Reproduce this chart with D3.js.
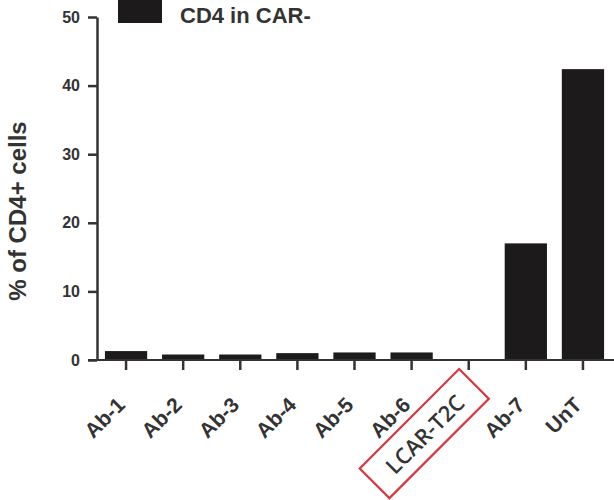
<!DOCTYPE html>
<html>
<head>
<meta charset="utf-8">
<script src="https://cdn.jsdelivr.net/npm/d3@7"></script>
<style>
  html, body { margin: 0; padding: 0; background: #fff; }
  svg { display: block; }
</style>
</head>
<body>
<svg id="chart" width="614" height="500"></svg>
<script>
const categories = ["Ab-1", "Ab-2", "Ab-3", "Ab-4", "Ab-5", "Ab-6", "LCAR-T2C", "Ab-7", "UnT"];
const values = [1.3, 0.8, 0.8, 1.0, 1.1, 1.1, 0, 17.0, 42.4];
const yTicks = [0, 10, 20, 30, 40, 50];
const seriesName = "CD4 in CAR-";
const yLabel = "% of CD4+ cells";
const highlighted = "LCAR-T2C";

const ink = "#333333";
const barColor = "#1c1a1b";
const font = "'Liberation Sans', Arial, Helvetica, sans-serif";

const svg = d3.select("#chart");

const x = d3.scaleBand()
  .domain(categories)
  .range([97.5, 611.5])
  .paddingInner(0.26)
  .paddingOuter(0.13);

const y = d3.scaleLinear().domain([0, 50]).range([360, 17]);

// bars
svg.append("g").selectAll("rect")
  .data(categories)
  .join("rect")
  .attr("x", d => x(d))
  .attr("width", x.bandwidth())
  .attr("y", (d, i) => y(values[i]))
  .attr("height", (d, i) => y(0) - y(values[i]))
  .attr("fill", barColor);

// y axis
const yAxis = svg.append("g")
  .attr("transform", `translate(97,0)`)
  .call(d3.axisLeft(y).tickValues(yTicks).tickSize(9).tickSizeOuter(0).tickPadding(8));
yAxis.select(".domain").attr("stroke", ink).attr("stroke-width", 2.5);
yAxis.selectAll(".tick line").attr("stroke", ink).attr("stroke-width", 2.5);
yAxis.selectAll(".tick text")
  .attr("fill", ink)
  .style("font-family", font)
  .style("font-weight", "bold")
  .style("font-size", "16px");

// x axis
const xAxis = svg.append("g")
  .attr("transform", `translate(0,${y(0)})`)
  .call(d3.axisBottom(x).tickSize(10).tickSizeOuter(0));
xAxis.select(".domain").remove();
xAxis.append("line")
  .attr("x1", 88).attr("x2", 614)
  .attr("y1", 0).attr("y2", 0)
  .attr("stroke", ink).attr("stroke-width", 2);
xAxis.selectAll(".tick line").attr("stroke", ink).attr("stroke-width", 2.5);
xAxis.selectAll(".tick text").remove();

// rotated x labels
const labelG = svg.append("g");
categories.forEach(c => {
  const isHi = c === highlighted;
  const cx0 = x(c) + x.bandwidth() / 2;
  const g = labelG.append("g")
    .attr("transform", `translate(${cx0 + (isHi ? -8 : -5)},${isHi ? 399 : 401}) rotate(-45)`);
  const t = g.append("text")
    .attr("text-anchor", "end")
    .attr("dy", "0.35em")
    .attr("fill", ink)
    .style("font-family", isHi ? "'Open Sans', sans-serif" : font)
    .style("font-weight", isHi ? "600" : "bold")
    .style("font-size", isHi ? "22px" : "21px")
    .text(c);
  if (isHi) {
    const bb = t.node().getBBox();
    const cx = bb.x + bb.width / 2;
    const cy = bb.y + bb.height / 2;
    const w = bb.width + 40, h = 42;
    g.append("rect")
      .attr("x", cx - w / 2)
      .attr("y", cy - h / 2)
      .attr("width", w)
      .attr("height", h)
      .attr("fill", "none")
      .attr("stroke", "#d8373f")
      .attr("stroke-width", 2.2);
  }
});

// legend
const leg = svg.append("g");
leg.append("rect")
  .attr("x", 118).attr("y", -2)
  .attr("width", 44).attr("height", 25)
  .attr("fill", barColor);
leg.append("text")
  .attr("x", 180).attr("y", 23)
  .attr("fill", ink)
  .style("font-family", font)
  .style("font-weight", "bold")
  .style("font-size", "22px")
  .text(seriesName);

// y label
svg.append("text")
  .attr("transform", "translate(26,211) rotate(-90)")
  .attr("text-anchor", "middle")
  .attr("fill", ink)
  .style("font-family", font)
  .style("font-weight", "bold")
  .style("font-size", "24px")
  .text(yLabel);
</script>
</body>
</html>
